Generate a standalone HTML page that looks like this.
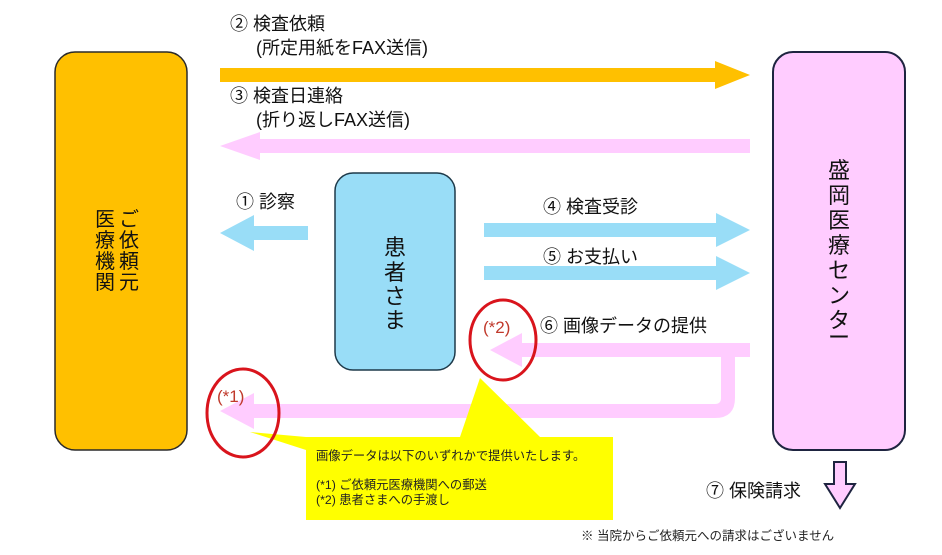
<!DOCTYPE html>
<html><head><meta charset="utf-8"><style>
html,body{margin:0;padding:0;background:#fff}
svg{display:block;font-family:"Liberation Sans","Noto Sans CJK JP",sans-serif}
</style></head><body>
<svg width="942" height="555" viewBox="0 0 942 555" xmlns="http://www.w3.org/2000/svg">
<rect x="55" y="52" width="132" height="398" rx="20" fill="#FFC000" stroke="#2a2a2a" stroke-width="1.5"/>
<rect x="773" y="52" width="132" height="398" rx="20" fill="#FFCCFF" stroke="#1e2440" stroke-width="2"/>
<rect x="335" y="173" width="120" height="197" rx="18" fill="#99DDF7" stroke="#1e3a4a" stroke-width="1.5"/>
<polygon points="220,68 715,68 715,61 750,75 715,89 715,82 220,82" fill="#FFC000"/>
<polygon points="750,139 260,139 260,132 220,146 260,160 260,153 750,153" fill="#FFCCFF"/>
<polygon points="308,226 254,226 254,215 220,233 254,251 254,240 308,240" fill="#99DDF7"/>
<polygon points="484,223 716,223 716,213 750,230 716,247 716,237 484,237" fill="#99DDF7"/>
<polygon points="484,266 716,266 716,256 750,273 716,290 716,280 484,280" fill="#99DDF7"/>
<polygon points="750,343 522,343 522,333 490,350 522,367 522,357 750,357" fill="#FFCCFF"/>
<path d="M721,357 L735,357 L735,398 Q735,418 715,418 L254,418 L254,429 220,411 254,393 254,404 715,404 Q721,404 721,398 Z" fill="#FFCCFF"/>
<polygon points="306,437 250,432 306,450" fill="#FFFF00"/>
<polygon points="460,437 480,378 540,437" fill="#FFFF00"/>
<rect x="306" y="437" width="307" height="83" fill="#FFFF00"/>
<ellipse cx="503" cy="340" rx="33" ry="40" fill="none" stroke="#D9141C" stroke-width="3"/>
<ellipse cx="243" cy="413" rx="36" ry="44" fill="none" stroke="#D9141C" stroke-width="3"/>
<text x="483" y="333" font-size="17" fill="#C0392B">(*2)</text>
<text x="217" y="402" font-size="17" fill="#C0392B">(*1)</text>
<polygon points="834,462 846,462 846,484 855,484 840,508 825,484 834,484" fill="#FFCCFF" stroke="#1e2440" stroke-width="2"/>
<g font-size="18" fill="#111">
<text x="230" y="30">② 検査依頼</text>
<text x="256" y="54">(所定用紙をFAX送信)</text>
<text x="230" y="102">③ 検査日連絡</text>
<text x="256" y="126">(折り返しFAX送信)</text>
<text x="236" y="208">① 診察</text>
<text x="543" y="213">④ 検査受診</text>
<text x="543" y="263">⑤ お支払い</text>
<text x="540" y="332">⑥ 画像データの提供</text>
<text x="706" y="497">⑦ 保険請求</text>
</g>
<text x="581" y="540" font-size="12.5" fill="#222">※ 当院からご依頼元への請求はございません</text>
<g font-size="12.3" fill="#222">
<text x="316" y="460">画像データは以下のいずれかで提供いたします。</text>
<text x="316" y="489">(*1) ご依頼元医療機関への郵送</text>
<text x="316" y="504">(*2) 患者さまへの手渡し</text>
</g>
<g font-size="20" fill="#111" text-anchor="middle">
<text x="129" y="226">ご</text><text x="129" y="247">依</text><text x="129" y="268">頼</text><text x="129" y="289">元</text>
<text x="105" y="226">医</text><text x="105" y="247">療</text><text x="105" y="268">機</text><text x="105" y="289">関</text>
</g>
<g font-size="22" fill="#111" text-anchor="middle">
<text x="395" y="255">患</text><text x="395" y="280">者</text><text x="395" y="304">さ</text><text x="395" y="328">ま</text>
<text x="839" y="178">盛</text><text x="839" y="203">岡</text><text x="839" y="228">医</text><text x="839" y="253">療</text><text x="839" y="278">セ</text><text x="839" y="303">ン</text><text x="839" y="328">タ</text><text x="839" y="345">ー</text>
</g>
</svg>
</body></html>
